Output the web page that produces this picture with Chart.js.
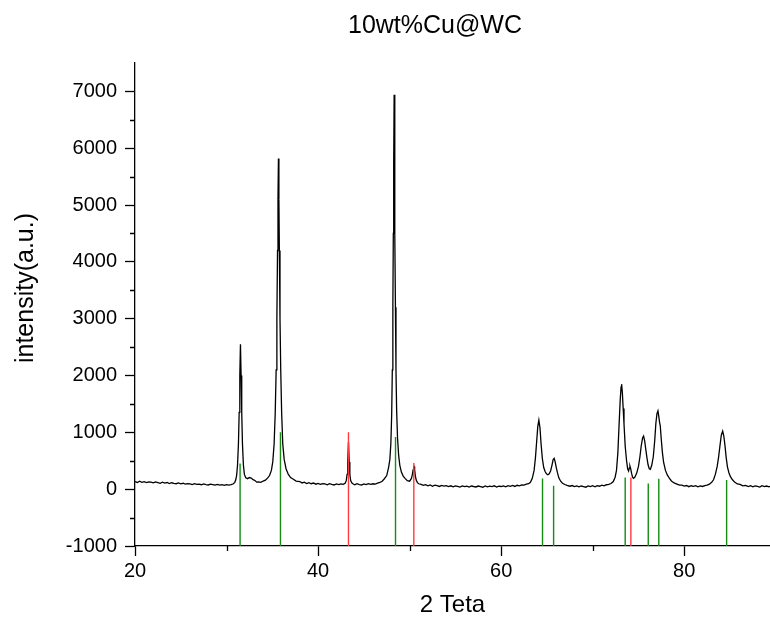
<!DOCTYPE html>
<html>
<head>
<meta charset="utf-8">
<script src="https://cdn.jsdelivr.net/npm/chart.js@4/dist/chart.umd.min.js"></script>
<style>
  html, body { margin: 0; padding: 0; background: #fff; }
  #wrap { width: 770px; height: 620px; }
</style>
</head>
<body>
<div id="wrap"><canvas id="xrd" width="770" height="620"></canvas></div>
<script>
// Measured diffraction pattern: 2-theta (deg) and counts
const twoTheta = [
  20.0, 20.25, 20.5, 20.75, 21.0, 21.25, 21.5, 21.75, 22.0, 22.25, 22.5, 22.75,
  23.0, 23.25, 23.5, 23.75, 24.0, 24.25, 24.5, 24.75, 25.0, 25.25, 25.5, 25.75,
  26.0, 26.25, 26.5, 26.75, 27.0, 27.25, 27.5, 27.75, 28.0, 28.25, 28.5, 28.75,
  29.0, 29.25, 29.5, 29.75, 30.0, 30.25, 30.5, 30.75, 30.9, 31.0, 31.1, 31.2,
  31.3, 31.38, 31.45, 31.52, 31.59, 31.66, 31.74, 31.84, 31.95, 32.1, 32.3, 32.5,
  32.7, 32.9, 33.1, 33.3, 33.5, 33.75, 34.0, 34.25, 34.5, 34.7, 34.9, 35.05,
  35.2, 35.32, 35.42, 35.5, 35.57, 35.62, 35.67, 35.72, 35.77, 35.84, 35.92, 36.02,
  36.14, 36.3, 36.5, 36.75, 37.0, 37.3, 37.6, 38.0, 38.25, 38.5, 38.75, 39.0,
  39.25, 39.5, 39.75, 40.0, 40.25, 40.5, 40.75, 41.0, 41.25, 41.5, 41.75, 42.0,
  42.25, 42.5, 42.75, 42.95, 43.08, 43.17, 43.24, 43.32, 43.4, 43.47, 43.56, 43.7,
  43.85, 44.0, 44.25, 44.5, 44.75, 45.0, 45.25, 45.5, 45.75, 46.0, 46.25, 46.5,
  46.75, 47.0, 47.2, 47.5, 47.7, 47.84, 47.95, 48.04, 48.11, 48.17, 48.22, 48.26,
  48.31, 48.36, 48.4, 48.45, 48.51, 48.58, 48.68, 48.8, 48.93, 49.1, 49.3, 49.5,
  49.75, 50.0, 50.2, 50.3, 50.38, 50.45, 50.49, 50.55, 50.62, 50.72, 50.85, 51.0,
  51.25, 51.5, 51.75, 52.0, 52.25, 52.5, 52.75, 53.0, 53.25, 53.5, 53.75, 54.0,
  54.25, 54.5, 54.75, 55.0, 55.25, 55.5, 55.75, 56.0, 56.25, 56.5, 56.75, 57.0,
  57.25, 57.5, 57.75, 58.0, 58.25, 58.5, 58.75, 59.0, 59.25, 59.5, 59.75, 60.0,
  60.25, 60.5, 60.75, 61.0, 61.25, 61.5, 61.75, 62.0, 62.25, 62.5, 62.75, 63.0,
  63.2, 63.4, 63.6, 63.75, 63.88, 64.0, 64.12, 64.24, 64.36, 64.5, 64.65, 64.8,
  64.95, 65.1, 65.25, 65.4, 65.55, 65.68, 65.79, 65.9, 66.02, 66.15, 66.3, 66.5,
  66.7, 66.95, 67.2, 67.5, 67.75, 68.0, 68.25, 68.5, 68.75, 69.0, 69.25, 69.5,
  69.75, 70.0, 70.25, 70.5, 70.75, 71.0, 71.25, 71.5, 71.75, 72.0, 72.25, 72.45,
  72.6, 72.75, 72.88, 73.0, 73.1, 73.16, 73.24, 73.33, 73.42, 73.55, 73.7, 73.82,
  73.92, 74.0, 74.07, 74.15, 74.25, 74.35, 74.45, 74.6, 74.8, 75.0, 75.16, 75.3,
  75.45, 75.56, 75.68, 75.8, 75.92, 76.05, 76.18, 76.3, 76.45, 76.62, 76.78, 76.9,
  77.02, 77.13, 77.22, 77.3, 77.38, 77.5, 77.62, 77.75, 77.95, 78.15, 78.35, 78.6,
  78.9, 79.2, 79.5, 79.75, 80.0, 80.25, 80.5, 80.75, 81.0, 81.25, 81.5, 81.75,
  82.0, 82.25, 82.5, 82.75, 83.0, 83.2, 83.4, 83.6, 83.75, 83.9, 84.05, 84.2,
  84.32, 84.45, 84.58, 84.72, 84.88, 85.05, 85.25, 85.5, 85.8, 86.1, 86.4, 86.7,
  87.0, 87.25, 87.5, 87.75, 88.0, 88.25, 88.5, 88.75, 89.0, 89.25, 89.5
];
const intensity = [
  132, 118, 140, 121, 133, 115, 128, 124, 110, 127, 116, 104,
  122, 108, 117, 99, 113, 104, 96, 110, 93, 104, 88, 99,
  92, 81, 97, 84, 90, 78, 93, 80, 74, 88, 79, 70,
  84, 72, 79, 66, 81, 70, 82, 95, 120, 160, 240, 420,
  800, 1350, 2000, 2550, 2000, 1350, 800, 430, 260, 200, 185, 205,
  196, 168, 152, 124, 130, 121, 143, 158, 198, 240, 330, 480,
  800, 1350, 2100, 3000, 4200, 5100, 5820, 5100, 4200, 3000, 2100, 1350,
  800, 520, 360, 260, 205, 174, 142, 134, 110, 122, 100, 114,
  96, 108, 88, 102, 84, 99, 92, 78, 97, 85, 74, 92,
  80, 94, 86, 105, 150, 260, 480, 830, 480, 260, 150, 108,
  90, 78, 96, 82, 74, 93, 80, 98, 86, 95, 90, 106,
  118, 140, 175, 240, 380, 520, 800, 1300, 2100, 3200, 4500, 5700,
  6940, 5700, 4500, 3200, 2100, 1400, 900, 600, 420, 300, 230, 190,
  150, 140, 190, 260, 340, 395, 400, 340, 240, 160, 115, 95,
  84, 66, 79, 58, 75, 52, 70, 61, 48, 67, 54, 62,
  45, 59, 40, 57, 49, 36, 58, 44, 53, 38, 56, 47,
  39, 55, 46, 34, 57, 41, 52, 46, 60, 38, 54, 47,
  59, 42, 61, 50, 66, 48, 69, 58, 76, 70, 88, 96,
  120, 190, 330, 560, 840, 1100, 1215, 1080, 800, 540, 380, 310,
  270, 255, 270, 320, 420, 520, 541, 480, 380, 290, 200, 140,
  105, 82, 66, 52, 64, 45, 58, 40, 56, 47, 35, 58,
  44, 60, 41, 63, 52, 70, 58, 78, 86, 100, 135, 210,
  330, 640, 1120, 1550, 1800, 1848, 1700, 1420, 1150, 760, 500, 360,
  320, 370, 406, 360, 278, 215, 192, 210, 278, 400, 570, 760,
  900, 934, 850, 700, 560, 430, 360, 350, 420, 570, 860, 1156,
  1330, 1379, 1280, 1180, 1120, 860, 640, 470, 330, 250, 200, 145,
  110, 90, 70, 72, 55, 64, 44, 60, 49, 62, 40, 57,
  48, 64, 72, 88, 120, 165, 260, 400, 560, 760, 950, 1021,
  940, 770, 560, 394, 290, 220, 170, 125, 92, 84, 58, 66,
  45, 62, 41, 57, 50, 38, 60, 44, 55, 42, 58
];

// Reference stick patterns (peak position, relative height)
const wcPositions = [31.48, 35.89, 48.46, 64.52, 65.73, 73.55, 76.07, 77.22, 84.63];
const wcHeights   = [450, 1000, 920, 190, 60, 205, 100, 185, 160];
const cuPositions = [43.32, 50.46, 74.17];
const cuHeights   = [1000, 460, 205];

// Axis ticks
const xMajorTicks = [20, 40, 60, 80];
const xMinorTicks = [30, 50, 70];
const yMajorTicks = [-1000, 0, 1000, 2000, 3000, 4000, 5000, 6000, 7000];
const yMinorTicks = [-500, 500, 1500, 2500, 3500, 4500, 5500, 6500];

const X_MIN = 20, X_MAX = 89.37, Y_MIN = -1000, Y_MAX = 7500;
const FONT = '"Liberation Sans", Arial, Helvetica, sans-serif';

function sticks(positions, heights) {
  const pts = [];
  positions.forEach((p, i) => {
    pts.push({ x: p, y: Y_MIN }, { x: p, y: heights[i] }, { x: p, y: null });
  });
  return pts;
}

const curve = twoTheta.map((t, i) => ({ x: t, y: intensity[i] }));

// Minor tick marks plus the chart title and the y-axis caption
const decorations = {
  id: 'decorations',
  afterDraw(chart) {
    const { ctx, chartArea, scales } = chart;
    ctx.save();
    ctx.strokeStyle = '#000';
    ctx.lineWidth = 1.3;
    ctx.beginPath();
    xMinorTicks.forEach(v => {
      const px = Math.round(scales.x.getPixelForValue(v)) + 0.5;
      ctx.moveTo(px, chartArea.bottom);
      ctx.lineTo(px, chartArea.bottom + 5);
    });
    yMinorTicks.forEach(v => {
      const py = Math.round(scales.y.getPixelForValue(v)) + 0.5;
      ctx.moveTo(chartArea.left, py);
      ctx.lineTo(chartArea.left - 5, py);
    });
    ctx.stroke();

    ctx.fillStyle = '#000';
    ctx.textAlign = 'center';
    ctx.textBaseline = 'middle';
    ctx.font = '25px ' + FONT;
    ctx.fillText('10wt%Cu@WC', 435, 26);

    ctx.translate(26, 288);
    ctx.rotate(-Math.PI / 2);
    ctx.font = '25px ' + FONT;
    ctx.fillText('intensity(a.u.)', 0, 0);
    ctx.restore();
  }
};

const plainNumber = v => String(v);

new Chart(document.getElementById('xrd'), {
  type: 'line',
  data: {
    datasets: [
      {
        label: 'WC',
        data: sticks(wcPositions, wcHeights),
        borderColor: 'rgb(20,140,20)',
        borderWidth: 1.4,
        pointRadius: 0,
        spanGaps: false,
        tension: 0
      },
      {
        label: 'Cu',
        data: sticks(cuPositions, cuHeights),
        borderColor: 'rgb(255,60,60)',
        borderWidth: 1.4,
        pointRadius: 0,
        spanGaps: false,
        tension: 0
      },
      {
        label: '10wt%Cu@WC',
        data: curve,
        borderColor: '#000',
        borderWidth: 1.3,
        pointRadius: 0,
        tension: 0
      }
    ]
  },
  options: {
    responsive: false,
    animation: false,
    devicePixelRatio: 1,
    layout: { padding: { top: 63, right: 0, bottom: 0, left: 0 } },
    plugins: {
      legend: { display: false },
      tooltip: { enabled: false },
      title: { display: false }
    },
    scales: {
      x: {
        type: 'linear',
        min: X_MIN,
        max: X_MAX,
        afterBuildTicks(scale) { scale.ticks = xMajorTicks.map(v => ({ value: v })); },
        afterFit(scale) { scale.height = 74; },
        grid: { drawOnChartArea: false, drawTicks: true, tickLength: 10, tickColor: '#000', tickWidth: 1.3 },
        border: { display: true, color: '#000', width: 1.3 },
        ticks: { color: '#000', font: { family: FONT, size: 20 }, padding: 3, maxRotation: 0, callback: plainNumber },
        title: { display: true, text: '2 Teta', color: '#000', font: { family: FONT, size: 24 }, padding: { top: 2, bottom: 0 } }
      },
      y: {
        type: 'linear',
        min: Y_MIN,
        max: Y_MAX,
        afterBuildTicks(scale) { scale.ticks = yMajorTicks.map(v => ({ value: v })); },
        afterFit(scale) { scale.width = 135; },
        grid: { drawOnChartArea: false, drawTicks: true, tickLength: 10, tickColor: '#000', tickWidth: 1.3 },
        border: { display: true, color: '#000', width: 1.3 },
        ticks: { color: '#000', font: { family: FONT, size: 20 }, padding: 8, callback: plainNumber }
      }
    }
  },
  plugins: [decorations]
});
</script>
</body>
</html>
